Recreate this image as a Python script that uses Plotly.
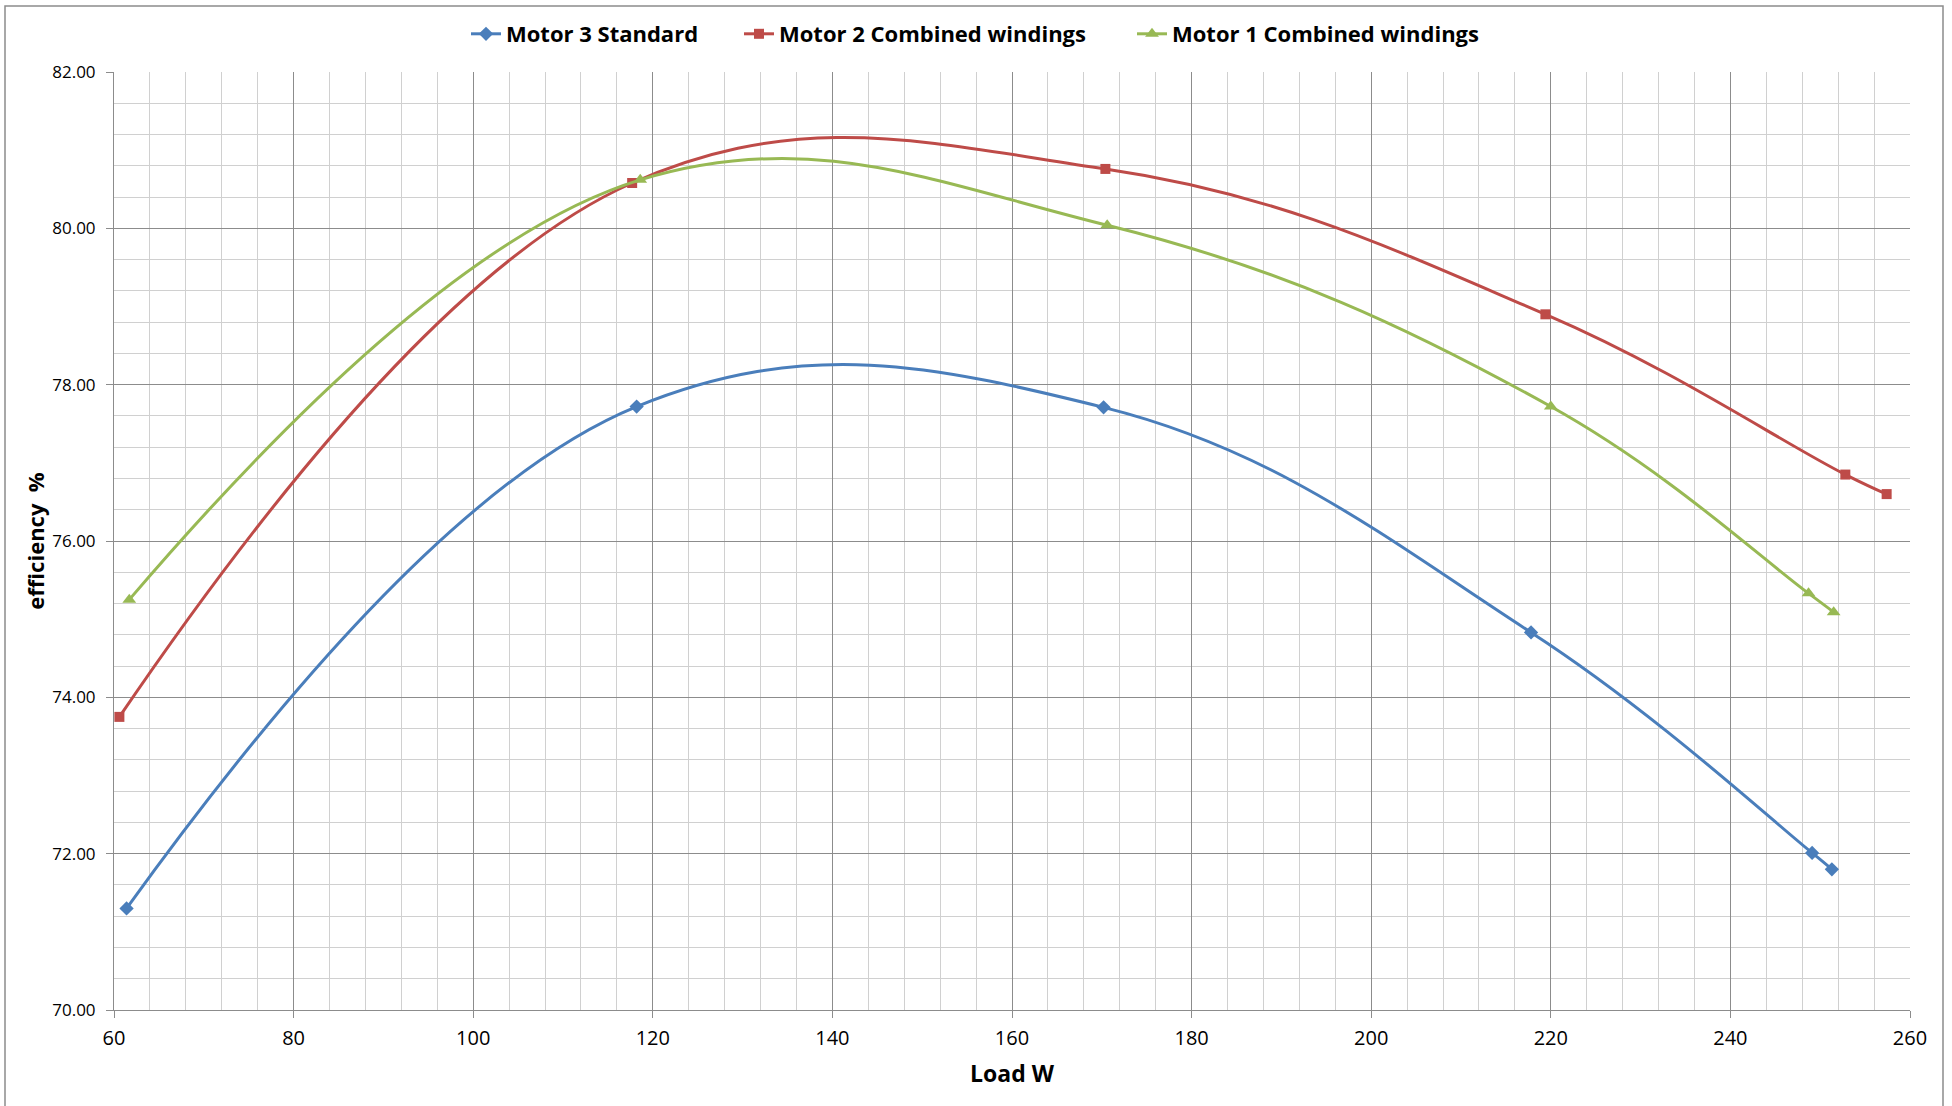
import plotly.graph_objects as go

# Data
motor3_load = [61.4, 118.2, 170.2, 217.8, 249.1, 251.3]
motor3_eff = [71.30, 77.72, 77.71, 74.83, 72.01, 71.80]

motor2_load = [60.6, 117.7, 170.4, 219.4, 252.8, 257.4]
motor2_eff = [73.75, 80.58, 80.76, 78.90, 76.85, 76.60]

motor1_load = [61.7, 118.6, 170.6, 220.0, 248.7, 251.5]
motor1_eff = [75.25, 80.62, 80.04, 77.72, 75.33, 75.09]

series_names = ["Motor 3 Standard", "Motor 2 Combined windings", "Motor 1 Combined windings"]
x_ticks = [60, 80, 100, 120, 140, 160, 180, 200, 220, 240, 260]
y_ticks = [70, 72, 74, 76, 78, 80, 82]

FONT = "Open Sans, DejaVu Sans, sans-serif"

L, R, T, B = 114, 42, 72, 96
PW, PH = 1952 - L - R, 1106 - T - B

fig = go.Figure()
styles = [
    (motor3_load, motor3_eff, "#4A7EBB", "diamond", 11, "legend"),
    (motor2_load, motor2_eff, "#BE4B48", "square", 10, "legend2"),
    (motor1_load, motor1_eff, "#98B954", "triangle-up", 12, "legend3"),
]
for name, (xs, ys, col, sym, sz, lg) in zip(series_names, styles):
    fig.add_trace(go.Scatter(
        x=xs, y=ys, name=name, mode="lines+markers",
        line=dict(color=col, width=3, shape="spline", smoothing=1.15),
        marker=dict(symbol=sym, size=sz, color=col),
        legend=lg,
    ))

major_grid = "#8C8C8C"
minor_grid = "#D0D0D0"

legend_font = dict(family=FONT, size=22, color="black", weight="bold")
legend_y = (1106 - B - 34) / PH


def legend_at(px_left):
    return dict(orientation="h", x=(px_left - L) / PW, xanchor="left",
                y=legend_y, yanchor="middle", font=legend_font,
                itemwidth=30, bgcolor="rgba(0,0,0,0)")


fig.update_layout(
    width=1952, height=1106,
    paper_bgcolor="white", plot_bgcolor="white",
    margin=dict(l=L, r=R, t=T, b=B),
    font=dict(family=FONT, color="black"),
    showlegend=True,
    legend=legend_at(473 - 7),
    legend2=legend_at(747 - 8),
    legend3=legend_at(1139 - 7),
    xaxis=dict(
        range=[60, 260], tickvals=x_ticks, ticktext=[str(v) for v in x_ticks],
        showgrid=True, gridcolor=major_grid, gridwidth=1,
        minor=dict(dtick=4, tick0=60, showgrid=True, gridcolor=minor_grid, gridwidth=1, ticks=""),
        showline=True, linecolor=major_grid, linewidth=1,
        ticks="outside", ticklen=7, tickcolor=major_grid,
        ticklabelstandoff=3,
        tickfont=dict(family=FONT, size=20, color="black"),
        zeroline=False,
        title=dict(text="Load W", font=dict(family=FONT, size=23, color="black", weight="bold"), standoff=15),
    ),
    yaxis=dict(
        range=[70, 82], tickvals=y_ticks, ticktext=[f"{v:.2f}" for v in y_ticks],
        showgrid=True, gridcolor=major_grid, gridwidth=1,
        minor=dict(dtick=0.4, tick0=70, showgrid=True, gridcolor=minor_grid, gridwidth=1, ticks=""),
        showline=True, linecolor=major_grid, linewidth=1,
        ticks="outside", ticklen=7, tickcolor=major_grid,
        ticklabelstandoff=7,
        tickfont=dict(family=FONT, size=17, color="black"),
        zeroline=False,
        title=dict(text="efficiency\u00a0\u00a0%", font=dict(family=FONT, size=22, color="black", weight="bold"), standoff=1),
    ),
    shapes=[dict(type="rect", xref="paper", yref="paper",
                 x0=(5 - L) / PW, x1=(1943 - L) / PW,
                 y0=(1010 - 1120) / PH, y1=(1010 - 6) / PH,
                 line=dict(color="#8C8C8C", width=1.5), fillcolor="rgba(0,0,0,0)", layer="below")],
)

fig.write_html("out.html")
